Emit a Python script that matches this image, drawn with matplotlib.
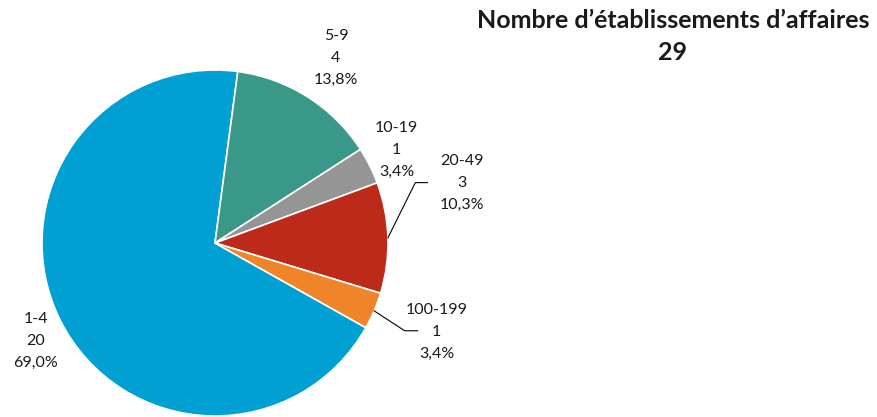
import numpy as np
import matplotlib
matplotlib.use("Agg")
import matplotlib.pyplot as plt

# donnees du graphique
categories = ["1-4", "5-9", "10-19", "20-49", "100-199"]
valeurs = [20, 4, 1, 3, 1]
pourcentages = ["69,0%", "13,8%", "3,4%", "10,3%", "3,4%"]
couleurs = ["#00A0D2", "#3A9889", "#959595", "#BE2A1A", "#F08428"]
titre = "Nombre d\u2019établissements d\u2019affaires"
total = "29"

plt.rcParams['font.family'] = ['Lato', 'DejaVu Sans']

fig = plt.figure(figsize=(8.78, 4.17), dpi=100)
# axe du camembert: centre (215, 243) px, rayon 173 px
ax = fig.add_axes([42 / 878, 1 / 417, 346 / 878, 346 / 417])
wedges, _ = ax.pie(valeurs, colors=couleurs, startangle=-29.3, counterclock=False,
                   radius=1, wedgeprops=dict(edgecolor="white", linewidth=1.2))
ax.set_xlim(-1, 1)
ax.set_ylim(-1, 1)
ax.set_aspect("equal")
ax.axis("off")

# position des etiquettes (facteur de rayon, decalage d'angle)
place = [(1.18, 2.0), (1.28, -0.7), (1.18, 0.6), (1.47, 12.0), (1.38, 1.3)]
leader = [False, False, False, True, True]

for i, w in enumerate(wedges):
    mid = np.deg2rad((w.theta1 + w.theta2) / 2)
    r, da = place[i]
    ang = mid + np.deg2rad(da)
    tx, ty = r * np.cos(ang), r * np.sin(ang)
    ax.text(tx, ty, f"{categories[i]}\n{valeurs[i]}\n{pourcentages[i]}",
            ha="center", va="center", fontsize=11.5, linespacing=1.72,
            color="#1a1a1a", clip_on=False)
    if leader[i]:
        x0, y0 = np.cos(mid), np.sin(mid)
        # coude puis segment horizontal vers le texte
        if i == 3:
            xe, ye = tx - 0.2, ty
            xk = xe - 0.07
        else:
            xe, ye = tx - 0.11, ty + 0.005
            xk = xe - 0.075
        ax.plot([x0, xk, xe], [y0, ye, ye], color="black", lw=0.8, clip_on=False)

fig.text(673 / 878, 1 - 21 / 417, titre, ha="center", va="center",
         fontsize=18, fontweight="bold", color="#1a1a1a")
fig.text(673 / 878, 1 - 52 / 417, total, ha="center", va="center",
         fontsize=18, fontweight="bold", color="#1a1a1a")

fig.savefig("out.png", dpi=100)
